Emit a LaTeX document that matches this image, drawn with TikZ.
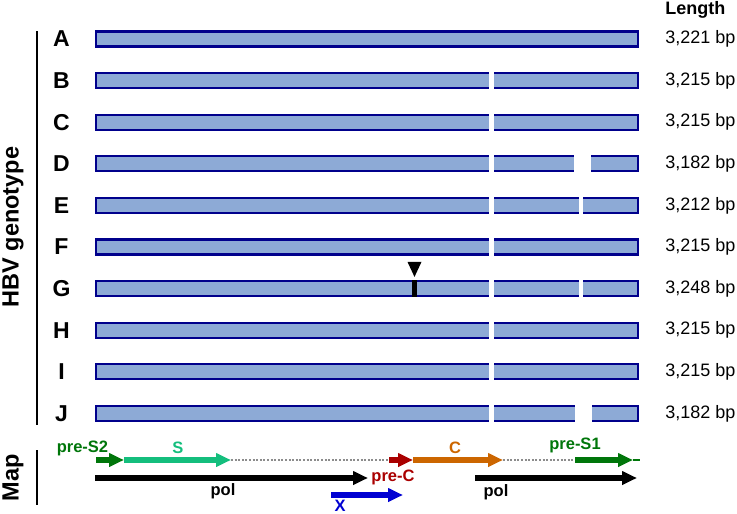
\documentclass[tikz,border=0pt]{standalone}
\usepackage{fontspec}
\setmainfont{Liberation Sans}
\usepackage{tikz}
\usetikzlibrary{positioning,arrows.meta,calc}
\definecolor{barfill}{RGB}{141,170,214}
\definecolor{barline}{RGB}{0,0,140}
\definecolor{dkgreen}{RGB}{0,118,10}
\definecolor{sgreen}{RGB}{20,190,125}
\definecolor{cred}{RGB}{170,0,0}
\definecolor{corange}{RGB}{204,102,0}
\definecolor{xblue}{RGB}{0,0,210}
\definecolor{spgray}{RGB}{140,140,140}

\begin{document}
\begin{tikzpicture}[
  x=1pt, y=-1pt,
  >={Triangle[length=15pt,width=13pt]},
  bar/.style     = {draw=barline, fill=barfill, line width=2.2pt, inner sep=0pt,
                    minimum width=542pt, minimum height=15pt},
  gapbox/.style  = {fill=white, inner sep=0pt, minimum height=21pt, minimum width=#1},
  gtype/.style   = {font=\fontsize{23}{25}\selectfont\bfseries, inner sep=0pt},
  len/.style     = {font=\fontsize{18}{20}\selectfont, inner sep=0pt, right=26pt of #1},
  hdr/.style     = {font=\fontsize{18}{20}\selectfont\bfseries, inner sep=0pt},
  side/.style    = {font=\fontsize{23.5}{25}\selectfont\bfseries, inner sep=0pt, rotate=90},
  axis/.style    = {line width=2pt, black},
  gene/.style    = {->, line width=6pt},
  spacer/.style  = {line width=1.5pt, spgray, dash pattern=on 2pt off 1.6pt},
  mlbl/.style    = {font=\fontsize{16.5}{18}\selectfont\bfseries, inner sep=0pt}
]
\useasboundingbox (0,0) rectangle (737,514);

\def\vgap{24.4pt}

% ============================ genome bars ==================================
\node[bar] (barA) at (367,39) {};
\node[bar, below=\vgap of barA] (barB) {};
\node[bar, below=\vgap of barB] (barC) {};
\node[bar, below=\vgap of barC] (barD) {};
\node[bar, below=\vgap of barD] (barE) {};
\node[bar, below=\vgap of barE] (barF) {};
\node[bar, below=\vgap of barF] (barG) {};
\node[bar, below=\vgap of barG] (barH) {};
\node[bar, below=\vgap of barH] (barI) {};
\node[bar, below=\vgap of barI] (barJ) {};

% deletions: white cuts laid over the bars
\node[gapbox=5pt]  (gapB)  at ($(barB)+(124,0)$) {};
\node[gapbox=5pt]  (gapC)  at ($(barC)+(124,0)$) {};
\node[gapbox=5pt]  (gapD)  at ($(barD)+(124,0)$) {};
\node[gapbox=17pt] (gapD2) at ($(barD)+(215.5,0)$) {};
\node[gapbox=5pt]  (gapE)  at ($(barE)+(124,0)$) {};
\node[gapbox=4.5pt](gapE2) at ($(barE)+(214,0)$) {};
\node[gapbox=5pt]  (gapF)  at ($(barF)+(124,0)$) {};
\node[gapbox=5pt]  (gapG)  at ($(barG)+(124,0)$) {};
\node[gapbox=4.5pt](gapG2) at ($(barG)+(214,0)$) {};
\node[gapbox=5pt]  (gapH)  at ($(barH)+(124,0)$) {};
\node[gapbox=5pt]  (gapI)  at ($(barI)+(124,0)$) {};
\node[gapbox=5pt]  (gapJ)  at ($(barJ)+(124,0)$) {};
\node[gapbox=17pt] (gapJ2) at ($(barJ)+(216,0)$) {};

% insertion in genotype G
\node[fill=black, inner sep=0pt, minimum width=5pt, minimum height=17pt]
  (insG) at ($(barG)+(47.5,0)$) {};
\fill (insG.north) ++(0,-3) -- ++(-7,-15) -- ++(14,0) -- cycle;

% genotype letters
\node[gtype] (lblA) at (61.5,39) {A};
\node[gtype] (lblB) at (lblA |- barB) {B};
\node[gtype] (lblC) at (lblA |- barC) {C};
\node[gtype] (lblD) at (lblA |- barD) {D};
\node[gtype] (lblE) at (lblA |- barE) {E};
\node[gtype] (lblF) at (lblA |- barF) {F};
\node[gtype] (lblG) at (lblA |- barG) {G};
\node[gtype] (lblH) at (lblA |- barH) {H};
\node[gtype] (lblI) at (lblA |- barI) {I};
\node[gtype] (lblJ) at (lblA |- barJ) {J};

% lengths
\node[len=barA] (lenA) {3,221 bp};
\node[len=barB] (lenB) {3,215 bp};
\node[len=barC] (lenC) {3,215 bp};
\node[len=barD] (lenD) {3,182 bp};
\node[len=barE] (lenE) {3,212 bp};
\node[len=barF] (lenF) {3,215 bp};
\node[len=barG] (lenG) {3,248 bp};
\node[len=barH] (lenH) {3,215 bp};
\node[len=barI] (lenI) {3,215 bp};
\node[len=barJ] (lenJ) {3,182 bp};
\node[hdr, anchor=west] (lenhdr) at (lenA.west |- 0,9.5) {Length};

% side titles
\coordinate (axtop) at (37,31);
\coordinate (axbot) at (37,425);
\draw[axis] (axtop) -- (axbot);
\node[side] (hbv) at (13,227) {HBV genotype};

\coordinate (maptop) at (37,450);
\coordinate (mapbot) at (37,505);
\draw[axis] (maptop) -- (mapbot);
\node[side] (maplbl) at (13,478) {Map};

% ================================ map ======================================
\coordinate (ps2)    at (96,460);
\coordinate (s)      at (124,460);
\coordinate (send)   at (231,460);
\coordinate (prec)   at (389,460);
\coordinate (c)      at (413,460);
\coordinate (cend)   at (503,460);
\coordinate (ps1)    at (575,460);
\coordinate (ps1end) at (633,460);
\coordinate (mapend) at (640,460);

\draw[spacer] (send) -- (prec);
\draw[spacer] (cend) -- (ps1);
\draw[gene, dkgreen] (ps2)  -- (s);
\draw[gene, sgreen]  (s)    -- (send);
\draw[gene, cred]    (prec) -- (c);
\draw[gene, corange] (c)    -- (cend);
\draw[gene, dkgreen] (ps1)  -- (ps1end);
\draw[dkgreen, line width=1.5pt] (ps1end) -- (mapend);

\coordinate (pol1s) at (95,478);
\coordinate (pol1e) at (368,478);
\coordinate (pol2s) at (475,478);
\coordinate (pol2e) at (637,478);
\coordinate (xs)    at (331,495);
\coordinate (xe)    at (403,495);

\draw[gene, black] (pol1s) -- (pol1e);
\draw[gene, black] (pol2s) -- (pol2e);
\draw[gene, xblue] (xs)    -- (xe);

\node[mlbl, text=dkgreen] (lblpreS2) at (82.5,448) {pre-S2};
\node[mlbl, text=sgreen]  (lblS)     at (178,448) {S};
\node[mlbl, text=cred]    (lblpreC)  at (393,477) {pre-C};
\node[mlbl, text=corange] (lblCgene) at (455,448) {C};
\node[mlbl, text=dkgreen] (lblpreS1) at (575,445) {pre-S1};
\node[mlbl]               (lblpol1)  at (223,491) {pol};
\node[mlbl]               (lblpol2)  at (496,492) {pol};
\node[mlbl, text=xblue]   (lblX)     at (340,506) {X};

\end{tikzpicture}
\end{document}
